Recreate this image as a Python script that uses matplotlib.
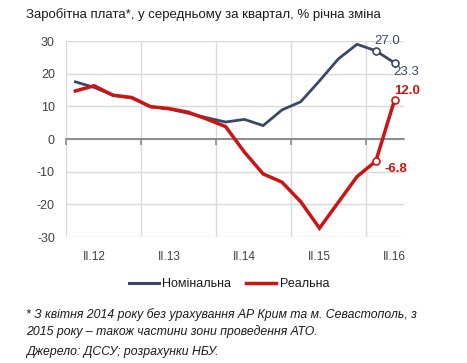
import matplotlib
matplotlib.use("Agg")
import matplotlib.pyplot as plt
from matplotlib.lines import Line2D

plt.rcParams['font.family'] = ['Liberation Sans', 'DejaVu Sans']

quarters = ["I.12", "II.12", "III.12", "IV.12", "I.13", "II.13", "III.13", "IV.13",
            "I.14", "II.14", "III.14", "IV.14", "I.15", "II.15", "III.15", "IV.15",
            "I.16", "II.16"]
nominal = [17.5, 15.8, 13.4, 12.6, 9.9, 9.2, 7.9, 6.5, 5.2, 6.0, 4.1, 8.9, 11.4, 17.8, 24.5, 29.0, 27.0, 23.3]
real = [14.7, 16.3, 13.4, 12.7, 9.9, 9.3, 8.2, 6.1, 3.8, -4.0, -10.7, -13.2, -19.2, -27.3, -19.4, -11.5, -6.8, 12.0]
label_quarters = ["II.12", "II.13", "II.14", "II.15", "II.16"]
yticks = [-30, -20, -10, 0, 10, 20, 30]

BLUE = "#3a4868"
RED = "#cc1414"
GRID = "#d9d9d9"
TXT = "#404040"

W, H = 467, 363
fig = plt.figure(figsize=(W / 100, H / 100), dpi=100)
ax = fig.add_axes([66 / W, 1 - 237 / H, (404 - 66) / W, (237 - 41) / H])

x = list(range(len(quarters)))
ax.plot(x, nominal, color=BLUE, lw=2.0, solid_joinstyle='miter', zorder=3)
ax.plot(x, real, color=RED, lw=2.5, solid_joinstyle='miter', zorder=4)
for s, c in ((nominal, BLUE), (real, RED)):
    ax.plot(x[-2:], s[-2:], ls='none', marker='o', ms=5, mfc='white', mec=c, mew=1.2, zorder=5)

ax.set_xlim(-0.5, len(quarters) - 0.5)
ax.set_ylim(-30, 30)
ax.set_yticks(yticks)
ax.set_yticklabels([str(v) for v in yticks])
for v in yticks:
    ax.axhline(v, color=GRID, lw=1.0, zorder=1)
bounds = [i - 0.5 for i in range(0, len(quarters), 4)]
for b in bounds:
    ax.axvline(b, color=GRID, lw=1.0, zorder=1)
ax.axhline(0, color="#8c8c8c", lw=1.2, zorder=2)

for sp in ax.spines.values():
    sp.set_visible(False)
ax.spines['bottom'].set_visible(True)
ax.spines['bottom'].set_position(('data', 0))
ax.spines['bottom'].set_color("#8c8c8c")
ax.spines['bottom'].set_linewidth(1.2)
ax.set_xticks(bounds)
ax.set_xticklabels([])
ax.tick_params(axis='x', direction='out', length=4, color="#8c8c8c", width=1.2)
ax.tick_params(axis='y', length=0, pad=8, labelsize=9, labelcolor=TXT)

sec = ax.secondary_xaxis(0)
sec.set_xticks([quarters.index(q) for q in label_quarters])
sec.set_xticklabels(label_quarters)
sec.tick_params(length=0, pad=10, labelsize=8.5, labelcolor=TXT)
for sp in sec.spines.values():
    sp.set_visible(False)

# data labels
ax.annotate(f"{nominal[-2]:.1f}", (x[-2], nominal[-2]), xytext=(-1, 2.5), textcoords='offset points',
            ha='left', va='bottom', fontsize=9.5, color=BLUE)
ax.annotate(f"{nominal[-1]:.1f}", (x[-1], nominal[-1]), xytext=(-1, -2), textcoords='offset points',
            ha='left', va='top', fontsize=9.5, color=BLUE)
ax.annotate(f"{real[-1]:.1f}", (x[-1], real[-1]), xytext=(0, 2), textcoords='offset points',
            ha='left', va='bottom', fontsize=9.5, color=RED, fontweight='bold')
ax.annotate(f"{real[-2]:.1f}", (x[-2], real[-2]), xytext=(6, -1), textcoords='offset points',
            ha='left', va='top', fontsize=9.5, color=RED, fontweight='bold')

fig.text(26 / W, 1 - 15 / H, "Заробітна плата*, у середньому за квартал, % річна зміна",
         fontsize=9.5, color="#1a1a1a", ha='left', va='center')

handles = [Line2D([], [], color=BLUE, lw=2.2), Line2D([], [], color=RED, lw=2.5)]
fig.legend(handles, ["Номінальна", "Реальна"], loc='center', bbox_to_anchor=(229 / W, 1 - 284 / H),
           ncol=2, frameon=False, fontsize=9, handlelength=2.4, handletextpad=0.3, columnspacing=1.2,
           labelcolor="#1a1a1a")

fig.text(26 / W, 1 - 315 / H, "* З квітня 2014 року без урахування АР Крим та м. Севастополь, з",
         fontsize=8.8, style='italic', color="#1a1a1a", ha='left', va='center')
fig.text(26 / W, 1 - 332 / H, "2015 року – також частини зони проведення АТО.",
         fontsize=8.8, style='italic', color="#1a1a1a", ha='left', va='center')
fig.text(26 / W, 1 - 352 / H, "Джерело: ДССУ; розрахунки НБУ.",
         fontsize=8.8, style='italic', color="#1a1a1a", ha='left', va='center')

fig.savefig("out.png", dpi=100)
